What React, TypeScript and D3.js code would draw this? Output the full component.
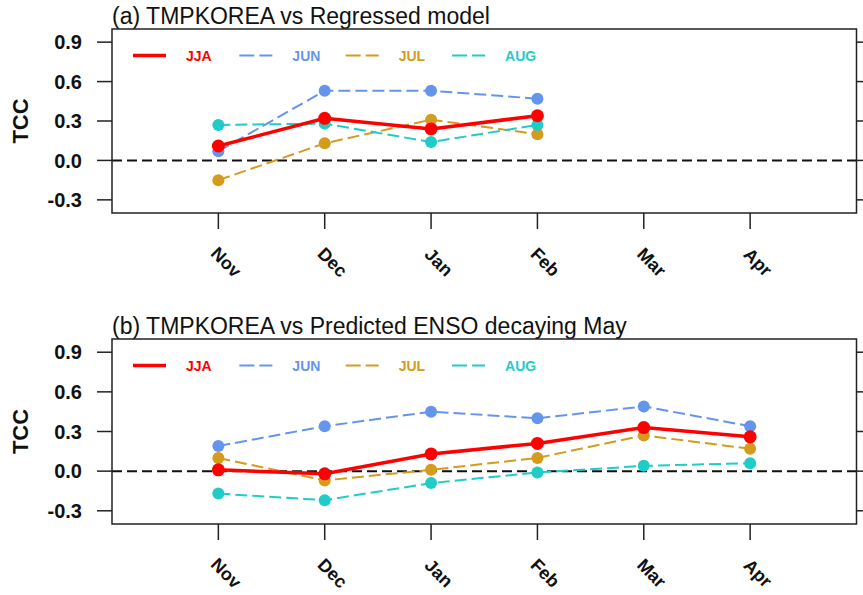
import React from 'react';
import * as d3 from 'd3';

const months = ['Nov', 'Dec', 'Jan', 'Feb', 'Mar', 'Apr'];
const yTicks = [-0.3, 0.0, 0.3, 0.6, 0.9];
const seriesNames = ['JJA', 'JUN', 'JUL', 'AUG'];
const seriesColors = ['#ff0000', '#6495ED', '#D49B1C', '#1FCCC8'];

// Panel (a) TMPKOREA vs Regressed model
const jjaA = [0.11, 0.32, 0.24, 0.34];
const junA = [0.07, 0.53, 0.53, 0.47];
const julA = [-0.15, 0.13, 0.31, 0.2];
const augA = [0.27, 0.28, 0.14, 0.27];

// Panel (b) TMPKOREA vs Predicted ENSO decaying May
const jjaB = [0.01, -0.02, 0.13, 0.21, 0.33, 0.26];
const junB = [0.19, 0.34, 0.45, 0.4, 0.49, 0.34];
const julB = [0.1, -0.07, 0.01, 0.1, 0.27, 0.17];
const augB = [-0.17, -0.22, -0.09, -0.01, 0.04, 0.06];

const titleA = '(a) TMPKOREA vs Regressed model';
const titleB = '(b) TMPKOREA vs Predicted ENSO decaying May';

const FONT = "'Liberation Sans', Arial, Helvetica, sans-serif";
const W = 863;
const H = 595;
const LEFT = 112;
const RIGHT = 856.5;

type PanelProps = {
  title: string;
  top: number;
  bottom: number;
  data: number[][]; // order: JJA, JUN, JUL, AUG
};

function Panel({ title, top, bottom, data }: PanelProps) {
  const x = d3.scaleLinear().domain([0, 7]).range([LEFT, RIGHT]);
  const y = d3.scaleLinear().domain([-0.4, 1.0]).range([bottom, top]);
  const line = d3
    .line<number>()
    .x((_, i) => x(i + 1))
    .y((d) => y(d));
  // drawing order: JUN, JUL, AUG, then JJA on top
  const order = [1, 2, 3, 0];
  const legendY = top + 26.5;
  const legendStep = (x(1) - x(0));
  return (
    <g>
      <text x={LEFT} y={top - 5} fontFamily={FONT} fontSize={23} fill="#111">
        {title}
      </text>
      {/* zero reference line */}
      <line
        x1={LEFT}
        x2={RIGHT}
        y1={y(0)}
        y2={y(0)}
        stroke="#111"
        strokeWidth={2}
        strokeDasharray="10,5"
      />
      {order.map((si) => {
        const vals = data[si];
        const solid = si === 0;
        return (
          <g key={seriesNames[si]}>
            <path
              d={line(vals) || ''}
              fill="none"
              stroke={seriesColors[si]}
              strokeWidth={solid ? 3.5 : 2}
              strokeDasharray={solid ? undefined : '12,5'}
            />
            {vals.map((v, i) => (
              <circle key={i} cx={x(i + 1)} cy={y(v)} r={solid ? 6.5 : 6} fill={seriesColors[si]} />
            ))}
          </g>
        );
      })}
      {/* legend */}
      {seriesNames.map((name, si) => {
        const x0 = 133 + si * legendStep;
        const solid = si === 0;
        return (
          <g key={name}>
            <line
              x1={x0}
              x2={x0 + 33}
              y1={legendY}
              y2={legendY}
              stroke={seriesColors[si]}
              strokeWidth={solid ? 3.5 : 2}
              strokeDasharray={solid ? undefined : '15,5'}
            />
            <text
              x={x0 + 53}
              y={legendY}
              dy="0.36em"
              fontFamily={FONT}
              fontWeight="bold"
              fontSize={14}
              fill={seriesColors[si]}
            >
              {name}
            </text>
          </g>
        );
      })}
      {/* frame */}
      <rect
        x={LEFT}
        y={top}
        width={RIGHT - LEFT}
        height={bottom - top}
        fill="none"
        stroke="#222"
        strokeWidth={1.5}
      />
      {/* y ticks left and right */}
      {yTicks.map((t) => (
        <g key={t}>
          <line x1={LEFT - 15} x2={LEFT} y1={y(t)} y2={y(t)} stroke="#222" strokeWidth={1.5} />
          <line x1={RIGHT} x2={RIGHT + 15} y1={y(t)} y2={y(t)} stroke="#222" strokeWidth={1.5} />
          <text
            x={82}
            y={y(t)}
            dy="0.36em"
            textAnchor="end"
            fontFamily={FONT}
            fontWeight="bold"
            fontSize={20}
            fill="#111"
          >
            {t.toFixed(1)}
          </text>
        </g>
      ))}
      {/* x ticks */}
      {months.map((m, i) => {
        const xx = x(i + 1);
        const cy = bottom + 49;
        return (
          <g key={m}>
            <line x1={xx} x2={xx} y1={bottom} y2={bottom + 16} stroke="#222" strokeWidth={1.5} />
            <text
              x={xx + 8}
              y={cy}
              dy="0.36em"
              textAnchor="middle"
              transform={`rotate(45 ${xx + 8} ${cy})`}
              fontFamily={FONT}
              fontWeight="bold"
              fontSize={18}
              fill="#111"
            >
              {m}
            </text>
          </g>
        );
      })}
      <text
        x={20}
        y={(top + bottom) / 2}
        dy="0.36em"
        textAnchor="middle"
        transform={`rotate(-90 20 ${(top + bottom) / 2})`}
        fontFamily={FONT}
        fontWeight="bold"
        fontSize={22}
        fill="#111"
      >
        TCC
      </text>
    </g>
  );
}

export default function App() {
  return (
    <svg
      width={W}
      height={H}
      viewBox={`0 0 ${W} ${H}`}
      style={{ position: 'absolute', left: 0, top: 0, background: '#fff' }}
    >
      <rect x={0} y={0} width={W} height={H} fill="#fff" />
      <Panel title={titleA} top={29} bottom={213} data={[jjaA, junA, julA, augA]} />
      <Panel title={titleB} top={339} bottom={524} data={[jjaB, junB, julB, augB]} />
    </svg>
  );
}
